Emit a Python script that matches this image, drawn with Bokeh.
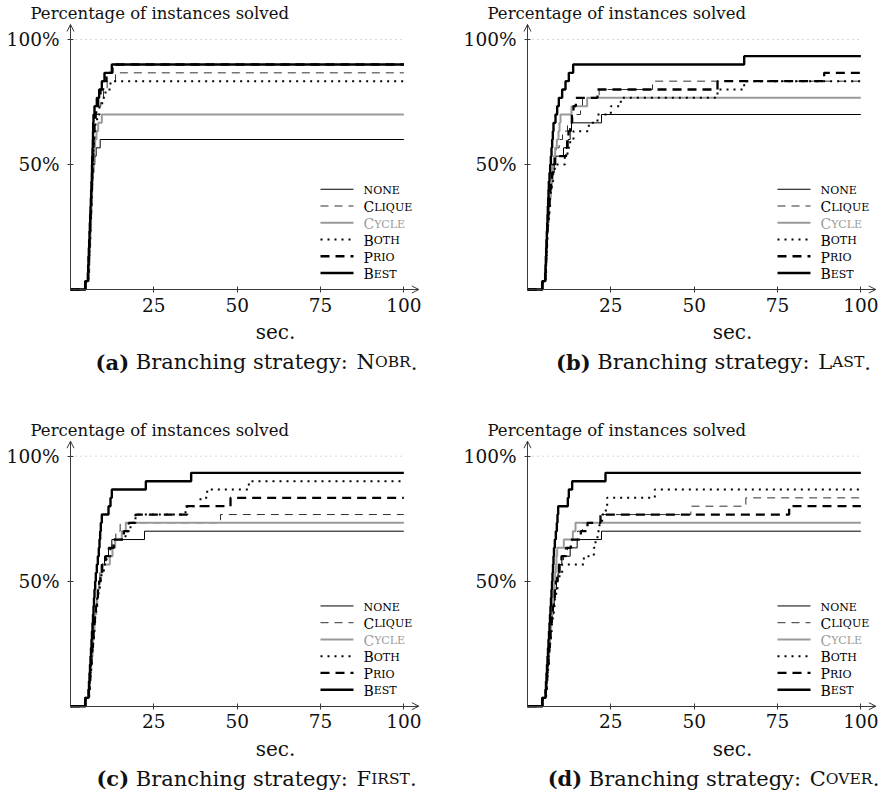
import struct, glob
from bokeh.plotting import figure
from bokeh.models import Range1d, FixedTicker, Arrow, OpenHead
from bokeh.layouts import column, row
from bokeh.embed import file_html
from bokeh.resources import INLINE
from bokeh.core.properties import value

# ---------------- data ----------------
N_INSTANCES = 30
X_MAX = 100
X_TICKS = [25, 50, 75, 100]
Y_TICKS = [50, 100]
Y_TICK_LABELS = ["50%", "100%"]
SERIES = ["none", "Clique", "Cycle", "Both", "Prio", "Best"]
PANEL_LETTERS = ["a", "b", "c", "d"]
STRATEGIES = ["Nobr", "Last", "First", "Cover"]
Y_TITLE = "Percentage of instances solved"
X_TITLE = "sec."

# solve times (sec.) of the solved instances, per series and panel
NONE_A = [4.6, 5.5, 5.6, 5.7, 5.8, 5.9, 6.0, 6.1, 6.2, 6.3, 6.4, 6.5, 6.6, 6.8, 7.0, 7.3, 7.7, 8.9]
CLIQUE_A = [4.5, 5.4, 5.5, 5.6, 5.7, 5.8, 5.9, 6.0, 6.1, 6.2, 6.3, 6.4, 6.5, 6.6, 6.7, 6.8, 6.9, 7.0, 7.2, 7.4,
            7.8, 8.4, 9.1, 9.9, 11.0, 13.5]
CYCLE_A = [4.6, 5.5, 5.6, 5.7, 5.8, 5.9, 6.0, 6.1, 6.2, 6.3, 6.4, 6.5, 6.6, 6.7, 6.8, 6.9, 7.1, 7.4, 7.8, 8.3, 9.4]
BOTH_A = [4.5, 5.4, 5.5, 5.6, 5.7, 5.8, 5.9, 6.0, 6.1, 6.2, 6.3, 6.4, 6.5, 6.6, 6.7, 6.8, 6.9, 7.0, 7.2, 7.5,
          8.0, 8.7, 9.5, 10.5, 12.0]
PRIO_A = [4.5, 5.3, 5.4, 5.5, 5.6, 5.7, 5.8, 5.9, 6.0, 6.1, 6.2, 6.3, 6.4, 6.5, 6.6, 6.7, 6.8, 6.9, 7.0, 7.1,
          7.3, 7.7, 8.3, 9.0, 9.8, 10.8, 12.6]
BEST_A = [4.4, 5.2, 5.3, 5.4, 5.5, 5.6, 5.7, 5.8, 5.9, 6.0, 6.1, 6.2, 6.3, 6.4, 6.45, 6.5, 6.6, 6.7, 6.75, 6.8,
          6.9, 7.2, 7.9, 8.6, 9.4, 10.2, 12.4]

NONE_B = [4.5, 5.5, 5.6, 5.7, 5.8, 5.9, 6.0, 6.2, 6.4, 6.6, 6.8, 7.0, 7.3, 7.6, 8.0, 8.5, 10.8, 12.2, 12.8, 13.2,
          22.2]
CLIQUE_B = [4.5, 5.4, 5.5, 5.6, 5.7, 5.8, 5.9, 6.0, 6.2, 6.4, 6.6, 6.8, 7.0, 7.3, 7.6, 8.0, 8.6, 9.5, 10.5, 12.0,
            13.6, 15.9, 16.5, 21.5, 37.5]
CYCLE_B = [4.5, 5.4, 5.5, 5.6, 5.7, 5.8, 5.9, 6.0, 6.2, 6.4, 6.6, 6.8, 7.0, 7.2, 7.5, 7.9, 8.3, 8.8, 9.3, 9.6,
           9.9, 13.2, 17.9]
BOTH_B = [4.6, 5.5, 5.6, 5.7, 5.8, 5.9, 6.0, 6.2, 6.4, 6.6, 6.8, 7.0, 7.3, 7.7, 8.2, 11.2, 12.0, 12.8, 13.8, 18.4,
          21.0, 25.0, 28.0, 57.0, 65.0]
PRIO_B = [4.5, 5.4, 5.5, 5.6, 5.7, 5.8, 5.9, 6.0, 6.2, 6.4, 6.6, 6.8, 7.0, 7.3, 7.7, 8.2, 11.6, 11.9, 12.3, 12.8,
          13.3, 13.8, 14.5, 21.0, 57.0, 89.0]
BEST_B = [4.4, 5.3, 5.4, 5.5, 5.6, 5.7, 5.8, 5.9, 6.0, 6.1, 6.2, 6.3, 6.4, 6.6, 6.8, 7.0, 7.2, 7.4, 7.6, 7.8,
          8.4, 8.9, 9.4, 10.4, 11.4, 12.4, 13.7, 65.0]

NONE_C = [4.5, 5.5, 5.7, 5.9, 6.1, 6.3, 6.5, 6.7, 6.9, 7.1, 7.3, 7.6, 7.9, 8.2, 8.5, 8.8, 9.2, 10.2, 11.4, 12.4,
          22.2]
CLIQUE_C = [4.5, 5.5, 5.7, 5.9, 6.1, 6.3, 6.5, 6.7, 6.9, 7.1, 7.3, 7.6, 7.9, 8.2, 8.6, 9.0, 9.6, 10.6, 11.6, 12.5,
            13.6, 14.9, 45.0]
CYCLE_C = [4.5, 5.6, 5.8, 6.0, 6.2, 6.4, 6.6, 6.8, 7.0, 7.2, 7.4, 7.7, 8.0, 8.3, 8.6, 9.0, 9.5, 11.8, 12.6, 13.4,
           15.4, 16.6]
BOTH_C = [4.6, 5.6, 5.8, 6.0, 6.2, 6.4, 6.6, 6.8, 7.0, 7.2, 7.4, 7.7, 8.0, 8.4, 8.8, 9.3, 10.0, 10.8, 12.0, 13.0,
          16.5, 18.0, 19.5, 34.5, 39.0, 41.0, 53.5]
PRIO_C = [4.5, 5.5, 5.7, 5.9, 6.1, 6.3, 6.5, 6.7, 6.9, 7.1, 7.3, 7.6, 7.9, 8.2, 8.6, 9.0, 9.5, 10.5, 11.5, 13.0,
          16.0, 17.5, 19.5, 35.0, 48.0]
BEST_C = [4.4, 5.4, 5.55, 5.7, 5.85, 6.0, 6.15, 6.3, 6.45, 6.6, 6.75, 6.9, 7.05, 7.2, 7.4, 7.6, 7.9, 8.2, 8.5, 8.7,
          8.9, 9.1, 9.4, 11.4, 12.0, 12.4, 22.6, 36.2]

NONE_D = [4.5, 5.6, 5.8, 6.0, 6.2, 6.4, 6.6, 6.8, 7.0, 7.2, 7.4, 7.7, 8.0, 8.3, 8.7, 9.2, 9.8, 10.3, 12.8, 14.9,
          22.2]
CLIQUE_D = [4.5, 5.5, 5.7, 5.9, 6.1, 6.3, 6.5, 6.7, 6.9, 7.1, 7.3, 7.6, 7.9, 8.2, 8.6, 9.1, 9.7, 10.8, 12.0, 13.5,
            15.0, 16.5, 22.0, 49.0, 65.5]
CYCLE_D = [4.5, 5.5, 5.7, 5.9, 6.1, 6.3, 6.5, 6.7, 6.9, 7.1, 7.3, 7.5, 7.7, 7.9, 8.1, 8.3, 8.5, 8.7, 8.9, 10.9,
           13.6, 14.4]
BOTH_D = [4.6, 5.6, 5.8, 6.0, 6.2, 6.4, 6.6, 6.8, 7.0, 7.3, 7.6, 7.9, 8.2, 8.6, 9.0, 9.6, 10.4, 16.9, 19.9, 20.4,
          21.0, 21.6, 22.4, 23.5, 23.9, 38.2]
PRIO_D = [4.5, 5.5, 5.7, 5.9, 6.1, 6.3, 6.5, 6.7, 6.9, 7.1, 7.3, 7.6, 7.9, 8.2, 8.5, 8.9, 9.4, 10.2, 11.5, 13.0,
          16.0, 18.0, 21.9, 78.5]
BEST_D = [4.4, 5.4, 5.55, 5.7, 5.85, 6.0, 6.15, 6.3, 6.45, 6.6, 6.75, 6.9, 7.05, 7.2, 7.35, 7.5, 7.65, 7.8, 7.95,
          8.2, 8.5, 8.8, 9.0, 9.2, 12.1, 12.4, 13.4, 23.4]

PANEL_DATA = [
    [NONE_A, CLIQUE_A, CYCLE_A, BOTH_A, PRIO_A, BEST_A],
    [NONE_B, CLIQUE_B, CYCLE_B, BOTH_B, PRIO_B, BEST_B],
    [NONE_C, CLIQUE_C, CYCLE_C, BOTH_C, PRIO_C, BEST_C],
    [NONE_D, CLIQUE_D, CYCLE_D, BOTH_D, PRIO_D, BEST_D],
]

# ---------------- styles ----------------
FONT = "DejaVu Serif"
AX = "#3a3a3a"
STYLES = [
    dict(line_color="#000000", line_width=1.0),
    dict(line_color="#1a1a1a", line_width=0.9, line_dash="8 6"),
    dict(line_color="#9a9a9a", line_width=2.0),
    dict(line_color="#000000", line_width=2.0, line_dash="2 5"),
    dict(line_color="#000000", line_width=2.3, line_dash="9 6"),
    dict(line_color="#000000", line_width=2.4),
]
LABEL_COLORS = ["#000000", "#000000", "#9a9a9a", "#000000", "#000000", "#000000"]


# ---------------- text measuring (reads the installed font) ----------------
def _load_width(fname):
    paths = glob.glob("/usr/share/fonts/**/" + fname, recursive=True) + \
        glob.glob("/usr/local/share/fonts/**/" + fname, recursive=True)
    try:
        d = open(paths[0], "rb").read()
        n = struct.unpack(">H", d[4:6])[0]
        t = {}
        for i in range(n):
            tag, _, off, _ = struct.unpack(">4sIII", d[12 + 16 * i:28 + 16 * i])
            t[tag] = off
        upem = struct.unpack(">H", d[t[b"head"] + 18:t[b"head"] + 20])[0]
        nhm = struct.unpack(">H", d[t[b"hhea"] + 34:t[b"hhea"] + 36])[0]
        hm = t[b"hmtx"]
        adv = [struct.unpack(">H", d[hm + 4 * i:hm + 4 * i + 2])[0] for i in range(nhm)]
        cm = t[b"cmap"]
        nsub = struct.unpack(">H", d[cm + 2:cm + 4])[0]
        sub = None
        for i in range(nsub):
            pid, eid, off = struct.unpack(">HHI", d[cm + 4 + 8 * i:cm + 12 + 8 * i])
            if pid == 3 and eid == 1:
                sub = cm + off
        segx2 = struct.unpack(">H", d[sub + 6:sub + 8])[0]
        seg = segx2 // 2
        ends = struct.unpack(">%dH" % seg, d[sub + 14:sub + 14 + segx2])
        so = sub + 16 + segx2
        starts = struct.unpack(">%dH" % seg, d[so:so + segx2])
        do = so + segx2
        deltas = struct.unpack(">%dh" % seg, d[do:do + segx2])
        ro = do + segx2
        ros = struct.unpack(">%dH" % seg, d[ro:ro + segx2])

        def gid(c):
            for k in range(seg):
                if ends[k] >= c:
                    if starts[k] > c:
                        return 0
                    if ros[k] == 0:
                        return (c + deltas[k]) & 0xFFFF
                    a = ro + 2 * k + ros[k] + 2 * (c - starts[k])
                    g = struct.unpack(">H", d[a:a + 2])[0]
                    return (g + deltas[k]) & 0xFFFF if g else 0
            return 0

        def width(s, size):
            return sum(adv[min(gid(ord(ch)), nhm - 1)] for ch in s) * size / upem
        return width
    except Exception:
        return lambda s, size: len(s) * 0.6 * size


W_REG = _load_width("DejaVuSerif.ttf")
W_BOLD = _load_width("DejaVuSerif-Bold.ttf")


def tw(s, size, bold=False):
    return (W_BOLD if bold else W_REG)(s, size)


def draw_pieces(p, x, y, pieces, align="left"):
    """pieces: (text, size, bold, color, gap_before_px)"""
    total = 0
    offs = []
    for text, size, bold, color, gap in pieces:
        total += gap
        offs.append(total)
        total += tw(text, size, bold)
    shift = {"left": 0, "center": -total / 2, "right": -total}[align]
    for (text, size, bold, color, gap), off in zip(pieces, offs):
        p.text(x=[x], y=[y], text=[text], x_offset=off + shift, text_font=value(FONT),
               text_font_size=f"{size}px", text_font_style="bold" if bold else "normal",
               text_color=color, text_align="left", text_baseline="alphabetic")


def small_caps(word, big, small, color, gap=0.0):
    out = []
    first, rest = word[0], word[1:]
    if first.isupper():
        out.append((first, big, False, color, gap))
        if rest:
            out.append((rest.upper(), small, False, color, 0.0))
    else:
        out.append((word.upper(), small, False, color, gap))
    return out


# ---------------- panels ----------------
FIG_W, FIG_H = 439, 396
X_RANGES = [(-21.0, 110.7), (-26.4, 105.3)]
Y_RANGES = [(-42.8, 115.6), (-34.52, 123.88)]
X_ARROW, Y_ARROW = 104.5, 106.0
LEG_Y = [40.1, 33.4, 26.7, 20.0, 13.3, 6.6]
LEG_X0, LEG_X1, LEG_TX = 75.0, 84.9, 87.9
CAP = 21


def make_panel(k):
    xr = X_RANGES[k % 2]
    yr = Y_RANGES[k // 2]
    p = figure(width=FIG_W, height=FIG_H, x_range=Range1d(*xr), y_range=Range1d(*yr),
               output_backend="svg", toolbar_location=None, min_border=0,
               background_fill_color="white", border_fill_color="white")
    p.outline_line_color = None
    p.grid.visible = False

    # axes
    xa, ya = p.xaxis[0], p.yaxis[0]
    for ax in (xa, ya):
        ax.fixed_location = 0
        ax.axis_line_color = AX
        ax.axis_line_width = 1
        ax.major_tick_line_color = AX
        ax.major_tick_in = 3
        ax.major_tick_out = 3
        ax.minor_tick_line_color = None
        ax.major_label_text_font = FONT
        ax.major_label_text_font_size = "18.5px"
        ax.major_label_text_color = "#111111"
    xa.ticker = FixedTicker(ticks=X_TICKS)
    xa.bounds = (0, X_ARROW)
    xa.major_label_standoff = 5
    ya.ticker = FixedTicker(ticks=Y_TICKS)
    ya.bounds = (0, Y_ARROW)
    ya.major_label_standoff = 8
    ya.major_label_overrides = {t: lab for t, lab in zip(Y_TICKS, Y_TICK_LABELS)}

    p.add_layout(Arrow(end=OpenHead(size=7, line_width=1, line_color=AX), line_color=AX, line_width=1,
                       x_start=X_ARROW - 1, y_start=0, x_end=X_ARROW, y_end=0))
    p.add_layout(Arrow(end=OpenHead(size=7, line_width=1, line_color=AX), line_color=AX, line_width=1,
                       x_start=0, y_start=Y_ARROW - 1, x_end=0, y_end=Y_ARROW))

    # dotted 100% guide
    p.segment(x0=[0], y0=[Y_TICKS[-1]], x1=[X_MAX], y1=[Y_TICKS[-1]], line_color="#b0b0b0",
              line_width=1, line_dash="1 4")

    # series
    for times, st in zip(PANEL_DATA[k], STYLES):
        xs = [0] + times + [X_MAX]
        ys = [100.0 * i / N_INSTANCES for i in range(len(times) + 1)] + [100.0 * len(times) / N_INSTANCES]
        p.step(x=xs, y=ys, mode="after", **st)

    # legend
    for name, st, ly, col in zip(SERIES, STYLES, LEG_Y, LABEL_COLORS):
        p.line(x=[LEG_X0, LEG_X1], y=[ly, ly], **st)
        draw_pieces(p, LEG_TX, ly - 0.5, small_caps(name, 14, 11, col))

    # titles
    draw_pieces(p, -12.0, 110.3, [(Y_TITLE, 16.5, False, "#111111", 0)])
    draw_pieces(p, 61.5, -17.0, [(X_TITLE, 20, False, "#111111", 0)], align="center")

    sp = tw(" ", CAP)
    cap = [(f"({PANEL_LETTERS[k]})", CAP, True, "#111111", 0),
           ("Branching strategy:", CAP, False, "#111111", sp)]
    cap += small_caps(STRATEGIES[k], CAP, 15.5, "#111111", gap=sp * 1.3)
    cap += [(".", CAP, False, "#111111", 0)]
    draw_pieces(p, 55.8, -29.0, cap, align="center")
    return p


panels = [make_panel(k) for k in range(4)]
layout = column(row(panels[0], panels[1]), row(panels[2], panels[3]))
open("out.html", "w").write(file_html(layout, INLINE))
